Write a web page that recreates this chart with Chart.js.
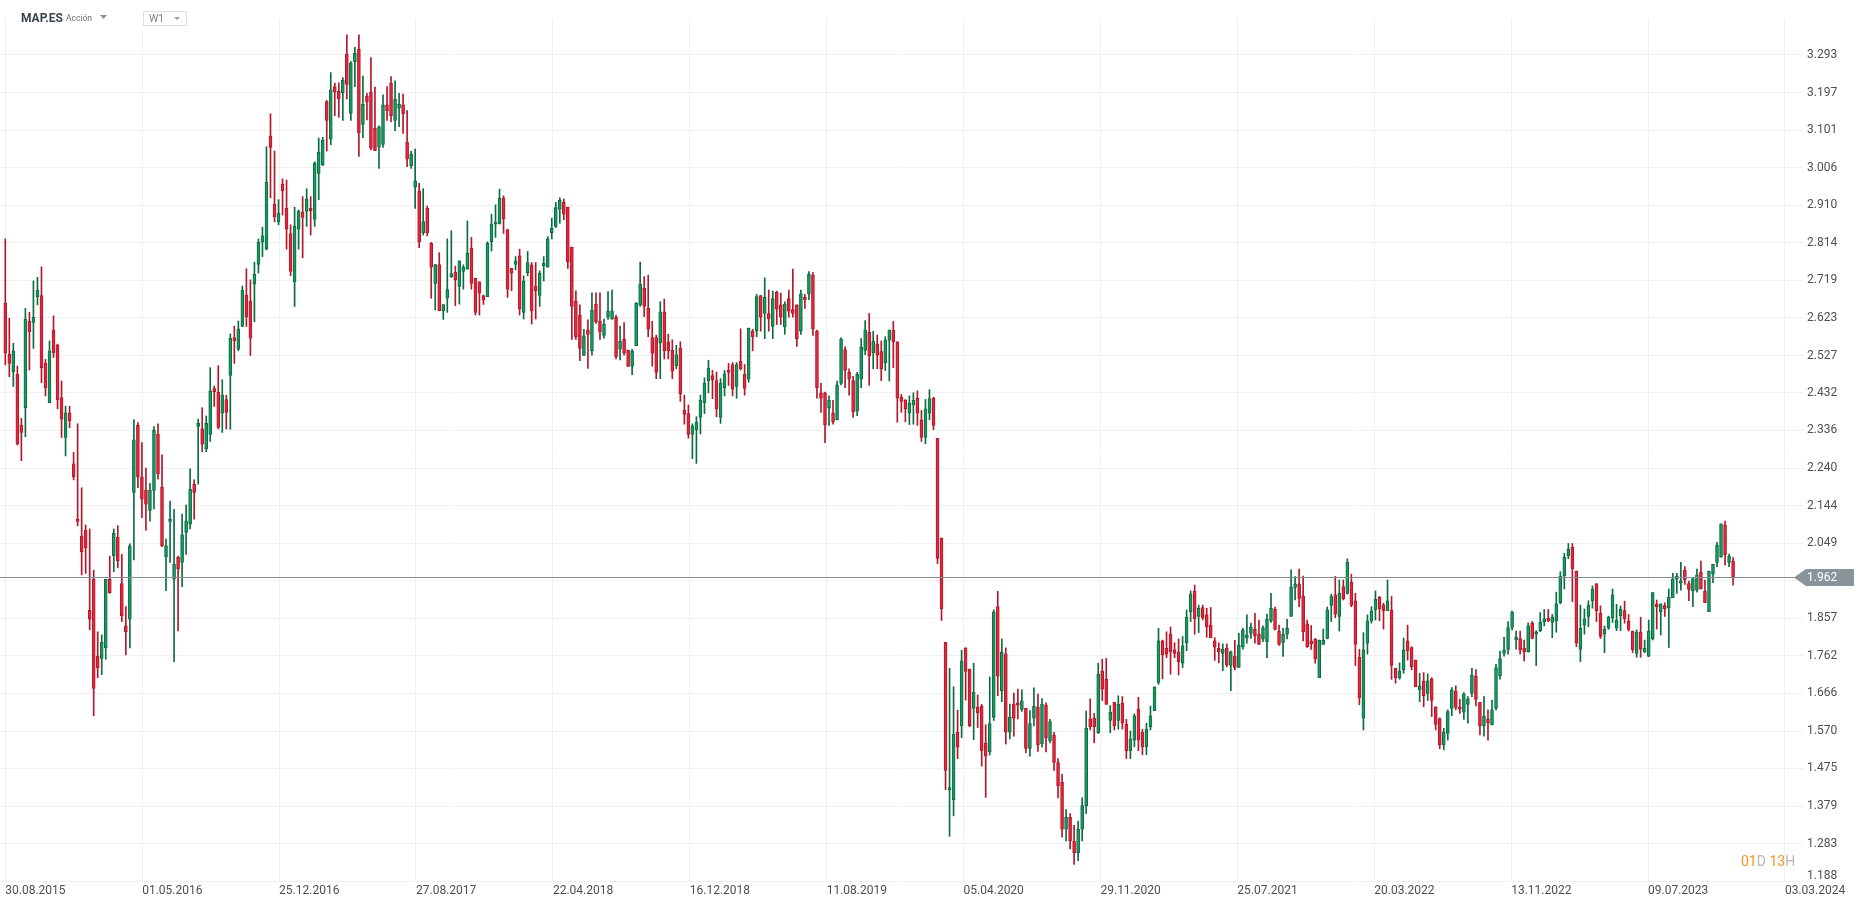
<!DOCTYPE html>
<html>
<head>
<meta charset="utf-8">
<title>MAP.ES W1</title>
<script src="https://cdn.jsdelivr.net/npm/chart.js@4.4.1/dist/chart.umd.min.js"></script>
<style>
  html, body { margin: 0; padding: 0; background: #fff; overflow: hidden; }
  #chart { display: block; }
</style>
</head>
<body>
<canvas id="chart" width="1866" height="907"></canvas>
<script>
// weekly candles, first one is the week of 30.08.2015
const symbol = 'MAP.ES';
const instrumentType = 'Acción';
const timeframe = 'W1';
const countdown = [['01', true], ['D', false], [' 13', true], ['H', false]];

const xTickLabels = ['30.08.2015', '01.05.2016', '25.12.2016', '27.08.2017', '22.04.2018', '16.12.2018',
  '11.08.2019', '05.04.2020', '29.11.2020', '25.07.2021', '20.03.2022', '13.11.2022', '09.07.2023', '03.03.2024'];
const weeksPerLabel = 34.07;

const yTicks = [1.188, 1.283, 1.379, 1.475, 1.570, 1.666, 1.762, 1.857, 1.953, 2.049, 2.144, 2.240,
  2.336, 2.432, 2.527, 2.623, 2.719, 2.814, 2.910, 3.006, 3.101, 3.197, 3.293];
const lastPrice = 1.962;

const openPrices = [
  2.660,2.530,2.486,2.479,2.350,2.394,2.615,2.611,2.677,2.680,
  2.507,2.407,2.592,2.554,2.420,2.318,2.381,2.251,2.110,2.067,
  2.082,1.878,1.957,1.761,1.755,1.782,1.957,2.017,2.064,1.946,
  1.838,1.855,2.178,2.350,2.217,2.184,2.132,2.183,2.327,2.191,
  2.014,2.104,1.957,2.013,2.000,2.076,2.097,2.199,2.346,2.340,
  2.289,2.326,2.443,2.433,2.380,2.415,2.476,2.573,2.543,2.601,
  2.681,2.666,2.709,2.759,2.816,2.798,3.086,2.913,2.868,2.964,
  2.902,2.838,2.715,2.849,2.892,2.894,2.902,2.874,2.991,3.013,
  3.174,3.078,3.212,3.201,3.197,3.295,3.144,3.276,3.307,3.116,
  3.188,3.198,3.106,3.058,3.065,3.166,3.221,3.126,3.157,3.166,
  3.070,3.011,2.956,2.946,2.840,2.902,2.813,2.711,2.759,2.641,
  2.673,2.728,2.739,2.703,2.741,2.747,2.800,2.724,2.715,2.680,
  2.677,2.817,2.862,2.862,2.928,2.847,2.749,2.759,2.781,2.637,
  2.738,2.758,2.704,2.680,2.756,2.752,2.840,2.856,2.900,2.917,
  2.905,2.803,2.666,2.630,2.527,2.592,2.539,2.658,2.615,2.578,
  2.625,2.621,2.624,2.543,2.569,2.541,2.499,2.552,2.656,2.698,
  2.647,2.573,2.573,2.559,2.638,2.562,2.540,2.501,2.546,2.388,
  2.379,2.326,2.338,2.369,2.407,2.462,2.476,2.463,2.369,2.445,
  2.490,2.504,2.448,2.512,2.479,2.467,2.589,2.589,2.680,2.634,
  2.634,2.601,2.688,2.656,2.600,2.672,2.644,2.656,2.589,2.675,
  2.683,2.732,2.590,2.432,2.432,2.393,2.380,2.363,2.456,2.542,
  2.484,2.463,2.385,2.467,2.540,2.586,2.534,2.557,2.537,2.509,
  2.566,2.592,2.562,2.421,2.413,2.380,2.401,2.418,2.363,2.318,
  2.380,2.418,2.316,2.062,1.796,1.421,1.395,1.567,1.583,1.782,
  1.728,1.628,1.631,1.633,1.539,1.517,1.605,1.887,1.673,1.767,
  1.567,1.639,1.642,1.625,1.628,1.526,1.603,1.631,1.537,1.636,
  1.545,1.560,1.490,1.440,1.320,1.350,1.290,1.260,1.320,1.380,
  1.601,1.603,1.566,1.723,1.702,1.597,1.643,1.597,1.641,1.587,
  1.520,1.547,1.626,1.567,1.530,1.581,1.622,1.694,1.800,1.781,
  1.817,1.777,1.771,1.743,1.795,1.874,1.927,1.862,1.885,1.866,
  1.840,1.800,1.781,1.768,1.781,1.737,1.761,1.732,1.785,1.808,
  1.819,1.829,1.817,1.804,1.798,1.851,1.880,1.825,1.796,1.817,
  1.862,1.936,1.945,1.914,1.843,1.800,1.804,1.706,1.791,1.806,
  1.890,1.917,1.862,1.938,1.921,1.949,1.902,1.758,1.603,1.794,
  1.851,1.879,1.911,1.891,1.877,1.879,1.730,1.706,1.726,1.800,
  1.783,1.751,1.675,1.698,1.666,1.703,1.632,1.602,1.535,1.564,
  1.628,1.672,1.631,1.618,1.638,1.666,1.710,1.643,1.583,1.601,
  1.586,1.628,1.711,1.768,1.778,1.834,1.802,1.806,1.781,1.772,
  1.846,1.817,1.826,1.849,1.857,1.847,1.851,1.897,1.966,2.017,
  2.038,1.978,1.778,1.840,1.862,1.902,1.945,1.870,1.817,1.832,
  1.859,1.832,1.864,1.877,1.851,1.825,1.768,1.822,1.772,1.760,
  1.805,1.894,1.874,1.890,1.884,1.910,1.957,1.947,1.980,1.946,
  1.928,1.929,1.975,1.927,1.874,1.970,2.000,2.013,2.095,2.000,
  2.003
];

const highPrices = [
  2.824,2.622,2.558,2.500,2.367,2.647,2.637,2.717,2.726,2.753,
  2.517,2.564,2.628,2.556,2.462,2.398,2.398,2.280,2.353,2.190,
  2.095,2.085,1.980,1.823,1.815,1.957,2.016,2.085,2.093,2.020,
  1.887,2.047,2.363,2.356,2.305,2.240,2.201,2.346,2.353,2.274,
  2.059,2.156,2.135,2.016,2.123,2.146,2.238,2.210,2.365,2.394,
  2.373,2.496,2.449,2.501,2.465,2.426,2.582,2.602,2.615,2.704,
  2.748,2.720,2.765,2.824,2.854,3.059,3.143,3.048,2.924,2.977,
  2.974,2.860,2.905,2.898,2.932,2.952,2.932,3.021,3.081,3.083,
  3.177,3.248,3.221,3.222,3.235,3.344,3.276,3.312,3.344,3.239,
  3.195,3.286,3.211,3.112,3.191,3.212,3.238,3.227,3.195,3.193,
  3.151,3.047,3.053,2.966,2.952,2.908,2.815,2.759,2.789,2.657,
  2.824,2.845,2.755,2.768,2.758,2.870,2.828,2.724,2.715,2.681,
  2.817,2.887,2.911,2.951,2.934,2.849,2.749,2.779,2.798,2.730,
  2.792,2.764,2.764,2.743,2.779,2.830,2.877,2.917,2.929,2.926,
  2.905,2.803,2.692,2.656,2.594,2.618,2.687,2.687,2.687,2.620,
  2.690,2.694,2.630,2.602,2.611,2.541,2.543,2.662,2.765,2.728,
  2.732,2.614,2.579,2.664,2.671,2.581,2.567,2.553,2.562,2.426,
  2.401,2.353,2.371,2.426,2.470,2.515,2.489,2.485,2.468,2.489,
  2.507,2.509,2.509,2.595,2.504,2.597,2.594,2.683,2.680,2.725,
  2.694,2.691,2.691,2.686,2.664,2.694,2.747,2.656,2.694,2.683,
  2.741,2.738,2.592,2.456,2.434,2.424,2.413,2.462,2.572,2.550,
  2.493,2.474,2.484,2.570,2.616,2.634,2.589,2.579,2.564,2.575,
  2.592,2.614,2.562,2.428,2.415,2.424,2.432,2.437,2.387,2.415,
  2.440,2.421,2.316,2.062,1.796,1.730,1.683,1.623,1.776,1.782,
  1.728,1.743,1.662,1.638,1.586,1.708,1.879,1.926,1.805,1.782,
  1.639,1.667,1.677,1.675,1.628,1.622,1.680,1.664,1.653,1.642,
  1.600,1.567,1.500,1.460,1.370,1.360,1.330,1.340,1.400,1.621,
  1.652,1.615,1.743,1.753,1.755,1.635,1.643,1.660,1.658,1.600,
  1.570,1.614,1.656,1.575,1.590,1.634,1.683,1.832,1.802,1.823,
  1.835,1.795,1.805,1.811,1.879,1.927,1.942,1.891,1.891,1.883,
  1.885,1.808,1.795,1.792,1.792,1.774,1.801,1.819,1.832,1.866,
  1.845,1.870,1.853,1.838,1.868,1.921,1.886,1.840,1.832,1.855,
  1.981,1.964,1.983,1.965,1.853,1.839,1.806,1.802,1.830,1.886,
  1.919,1.964,1.955,1.955,2.009,1.970,1.921,1.778,1.821,1.866,
  1.887,1.927,1.913,1.896,1.955,1.913,1.730,1.744,1.807,1.840,
  1.785,1.751,1.717,1.719,1.716,1.706,1.632,1.604,1.577,1.624,
  1.681,1.685,1.651,1.668,1.658,1.730,1.727,1.643,1.658,1.624,
  1.649,1.740,1.774,1.809,1.849,1.876,1.825,1.825,1.802,1.846,
  1.849,1.826,1.872,1.880,1.880,1.867,1.924,1.976,2.023,2.048,
  2.048,1.978,1.891,1.881,1.902,1.940,1.946,1.889,1.838,1.863,
  1.932,1.893,1.889,1.901,1.867,1.825,1.828,1.860,1.802,1.853,
  1.923,1.904,1.894,1.897,1.932,1.972,1.972,2.000,1.989,1.952,
  1.959,1.983,2.003,1.955,1.978,1.995,2.051,2.098,2.105,2.021,
  2.012
];

const lowPrices = [
  2.503,2.473,2.448,2.299,2.259,2.320,2.490,2.545,2.656,2.458,
  2.424,2.407,2.522,2.391,2.318,2.271,2.343,2.210,2.093,1.968,
  1.972,1.828,1.609,1.706,1.714,1.753,1.921,1.976,1.986,1.849,
  1.764,1.782,2.006,2.190,2.114,2.082,2.105,2.136,2.212,2.040,
  1.928,2.000,1.747,1.825,1.938,2.020,2.085,2.110,2.199,2.282,
  2.282,2.308,2.397,2.340,2.331,2.340,2.339,2.507,2.539,2.601,
  2.601,2.527,2.613,2.737,2.779,2.796,2.929,2.868,2.860,2.885,
  2.798,2.730,2.652,2.798,2.776,2.856,2.834,2.856,2.924,3.011,
  3.048,3.064,3.138,3.134,3.126,3.181,3.126,3.212,3.034,3.082,
  3.127,3.051,3.049,3.004,3.057,3.126,3.123,3.100,3.110,3.093,
  3.008,3.004,2.902,2.802,2.834,2.832,2.673,2.643,2.641,2.619,
  2.637,2.726,2.654,2.658,2.696,2.747,2.696,2.630,2.630,2.657,
  2.677,2.793,2.828,2.862,2.838,2.675,2.692,2.745,2.630,2.620,
  2.730,2.607,2.620,2.652,2.717,2.752,2.824,2.853,2.864,2.873,
  2.749,2.568,2.568,2.514,2.527,2.494,2.528,2.609,2.568,2.571,
  2.619,2.619,2.518,2.516,2.528,2.499,2.478,2.552,2.652,2.626,
  2.575,2.500,2.468,2.468,2.518,2.518,2.468,2.493,2.410,2.352,
  2.316,2.264,2.252,2.327,2.379,2.432,2.417,2.371,2.354,2.424,
  2.451,2.424,2.418,2.490,2.426,2.459,2.539,2.575,2.589,2.570,
  2.589,2.570,2.606,2.606,2.581,2.625,2.625,2.550,2.581,2.647,
  2.669,2.578,2.418,2.382,2.305,2.349,2.352,2.363,2.452,2.445,
  2.426,2.369,2.374,2.445,2.529,2.451,2.493,2.493,2.463,2.489,
  2.462,2.496,2.357,2.382,2.358,2.351,2.352,2.349,2.308,2.302,
  2.363,2.338,1.997,1.852,1.421,1.302,1.354,1.500,1.553,1.649,
  1.581,1.548,1.579,1.481,1.401,1.509,1.597,1.660,1.645,1.537,
  1.550,1.557,1.601,1.620,1.515,1.506,1.583,1.518,1.529,1.517,
  1.540,1.470,1.400,1.300,1.290,1.270,1.230,1.240,1.290,1.360,
  1.573,1.540,1.564,1.648,1.638,1.566,1.573,1.575,1.575,1.500,
  1.500,1.530,1.520,1.510,1.510,1.573,1.622,1.689,1.703,1.757,
  1.715,1.757,1.713,1.732,1.775,1.849,1.817,1.821,1.853,1.809,
  1.808,1.750,1.744,1.724,1.734,1.673,1.726,1.732,1.779,1.794,
  1.806,1.794,1.791,1.798,1.757,1.847,1.828,1.788,1.760,1.805,
  1.862,1.904,1.887,1.800,1.783,1.778,1.743,1.706,1.791,1.805,
  1.849,1.859,1.825,1.904,1.919,1.887,1.737,1.637,1.573,1.766,
  1.845,1.853,1.851,1.830,1.877,1.702,1.692,1.702,1.717,1.751,
  1.726,1.683,1.645,1.632,1.648,1.607,1.573,1.525,1.522,1.547,
  1.609,1.624,1.615,1.600,1.590,1.658,1.634,1.560,1.557,1.547,
  1.586,1.624,1.702,1.761,1.766,1.828,1.779,1.766,1.749,1.771,
  1.805,1.737,1.823,1.838,1.849,1.808,1.822,1.894,1.932,2.009,
  1.900,1.785,1.747,1.817,1.836,1.883,1.849,1.806,1.770,1.829,
  1.847,1.826,1.826,1.845,1.825,1.770,1.758,1.758,1.770,1.760,
  1.802,1.830,1.815,1.862,1.783,1.910,1.921,1.929,1.944,1.902,
  1.887,1.924,1.932,1.897,1.874,1.948,1.989,2.013,1.993,1.989,
  1.942
];

const closePrices = [
  2.533,2.507,2.538,2.302,2.331,2.619,2.588,2.624,2.694,2.496,
  2.445,2.539,2.534,2.414,2.365,2.381,2.361,2.218,2.104,2.027,
  2.037,1.855,1.679,1.731,1.796,1.957,1.923,2.074,2.004,1.864,
  1.823,2.042,2.312,2.218,2.161,2.148,2.184,2.337,2.225,2.042,
  2.042,2.110,1.995,1.983,2.070,2.105,2.186,2.178,2.354,2.301,
  2.354,2.437,2.435,2.344,2.426,2.382,2.571,2.565,2.595,2.694,
  2.626,2.571,2.734,2.816,2.832,2.968,3.057,2.881,2.889,2.947,
  2.849,2.741,2.857,2.895,2.879,2.926,2.896,3.017,3.045,3.076,
  3.126,3.204,3.199,3.181,3.229,3.218,3.273,3.297,3.095,3.167,
  3.174,3.055,3.049,3.110,3.166,3.151,3.138,3.180,3.167,3.143,
  3.027,3.040,2.972,2.817,2.868,2.840,2.752,2.759,2.641,2.657,
  2.695,2.736,2.720,2.768,2.752,2.788,2.711,2.637,2.686,2.669,
  2.813,2.862,2.867,2.928,2.875,2.696,2.737,2.768,2.645,2.717,
  2.764,2.641,2.692,2.737,2.762,2.824,2.851,2.904,2.923,2.887,
  2.766,2.652,2.575,2.545,2.577,2.581,2.643,2.613,2.588,2.607,
  2.640,2.641,2.524,2.564,2.533,2.499,2.539,2.660,2.709,2.652,
  2.594,2.533,2.484,2.638,2.539,2.539,2.487,2.529,2.430,2.377,
  2.326,2.348,2.357,2.413,2.457,2.495,2.465,2.391,2.457,2.480,
  2.484,2.441,2.504,2.493,2.443,2.597,2.575,2.677,2.625,2.675,
  2.620,2.672,2.645,2.625,2.658,2.640,2.634,2.570,2.684,2.669,
  2.734,2.595,2.445,2.418,2.351,2.413,2.358,2.452,2.568,2.489,
  2.467,2.384,2.479,2.548,2.592,2.526,2.564,2.528,2.493,2.566,
  2.592,2.562,2.418,2.410,2.391,2.406,2.413,2.380,2.318,2.391,
  2.417,2.349,2.010,1.881,1.470,1.426,1.562,1.529,1.749,1.722,
  1.584,1.669,1.617,1.520,1.507,1.589,1.874,1.710,1.771,1.567,
  1.606,1.603,1.636,1.647,1.526,1.589,1.634,1.535,1.639,1.553,
  1.594,1.490,1.430,1.320,1.350,1.290,1.260,1.320,1.380,1.577,
  1.581,1.581,1.715,1.677,1.638,1.618,1.584,1.638,1.590,1.520,
  1.550,1.609,1.547,1.530,1.575,1.609,1.682,1.800,1.764,1.766,
  1.772,1.768,1.747,1.787,1.860,1.919,1.856,1.883,1.859,1.836,
  1.808,1.784,1.772,1.778,1.739,1.772,1.732,1.789,1.828,1.815,
  1.835,1.813,1.791,1.834,1.855,1.883,1.829,1.791,1.817,1.832,
  1.937,1.945,1.908,1.823,1.785,1.792,1.754,1.802,1.802,1.879,
  1.913,1.868,1.921,1.907,2.000,1.890,1.791,1.655,1.777,1.851,
  1.876,1.906,1.881,1.877,1.902,1.737,1.706,1.723,1.777,1.774,
  1.734,1.683,1.685,1.660,1.698,1.648,1.587,1.535,1.568,1.620,
  1.675,1.630,1.626,1.665,1.651,1.713,1.651,1.584,1.608,1.590,
  1.624,1.732,1.755,1.777,1.834,1.873,1.809,1.777,1.771,1.838,
  1.806,1.823,1.847,1.856,1.851,1.860,1.894,1.965,2.013,2.034,
  1.983,1.794,1.832,1.856,1.891,1.932,1.877,1.811,1.829,1.860,
  1.917,1.853,1.880,1.856,1.829,1.777,1.822,1.778,1.781,1.825,
  1.923,1.887,1.894,1.881,1.911,1.958,1.965,1.953,1.955,1.931,
  1.958,1.968,1.932,1.897,1.978,1.995,2.044,2.098,2.019,2.016,
  1.962
];

const GREEN = '#189a62', GREEN_DARK = '#0b6b42';
const RED = '#e5273b', RED_DARK = '#b3172a';
const GRID = '#f0f0f0';
const TEXT = '#4a5056';

const weeks = closePrices.map((_, i) => i);
const rising = weeks.map(i => closePrices[i] >= openPrices[i]);

Chart.defaults.font.family = 'Roboto';

const overlay = {
  id: 'overlay',
  afterDraw(chart) {
    const c = chart.ctx;
    const ys = chart.scales.y;
    const area = chart.chartArea;
    const py = Math.round(ys.getPixelForValue(lastPrice)) + 0.5;
    c.save();

    // current price line + tag
    c.strokeStyle = '#838d92';
    c.lineWidth = 1;
    c.beginPath();
    c.moveTo(area.left, py);
    c.lineTo(1795, py);
    c.stroke();
    c.fillStyle = '#89939a';
    c.beginPath();
    c.moveTo(1794, py);
    c.lineTo(1806, py - 8.5);
    c.lineTo(1854, py - 8.5);
    c.lineTo(1854, py + 8.5);
    c.lineTo(1806, py + 8.5);
    c.closePath();
    c.fill();
    c.font = '12px Roboto';
    c.textAlign = 'left';
    c.textBaseline = 'middle';
    c.fillStyle = '#ffffff';
    c.fillText(lastPrice.toFixed(3), 1807, py + 0.5);

    // bottom price label sits a bit higher than its grid line
    c.fillStyle = TEXT;
    c.fillText(yTicks[0].toFixed(3), 1807, ys.getPixelForValue(yTicks[0]) - 5);

    // candle countdown
    c.font = '14px Roboto';
    let x = 1741;
    countdown.forEach(([t, hot]) => {
      c.fillStyle = hot ? '#f7941d' : '#b8b8b8';
      c.fillText(t, x, 862);
      x += c.measureText(t).width;
    });

    // header
    c.fillStyle = '#ffffff';
    c.fillRect(10, 0, 195, 31);
    c.fillStyle = '#37434d';
    c.font = 'bold 12px Roboto';
    c.fillText(symbol, 21, 18.5);
    c.fillStyle = '#6b7177';
    c.font = '8.5px Roboto';
    c.fillText(instrumentType, 66, 19);
    c.fillStyle = '#8a8f94';
    c.beginPath();
    c.moveTo(100, 15); c.lineTo(107, 15); c.lineTo(103.5, 19); c.closePath();
    c.fill();
    c.strokeStyle = '#dcdfe2';
    c.strokeRect(143.5, 11.5, 43, 14);
    c.fillStyle = '#7a7f84';
    c.font = '10.5px Roboto';
    c.fillText(timeframe, 149, 19);
    c.fillStyle = '#9a9ea2';
    c.beginPath();
    c.moveTo(174, 17); c.lineTo(180, 17); c.lineTo(177, 20); c.closePath();
    c.fill();

    c.restore();
  }
};

new Chart(document.getElementById('chart'), {
  type: 'bar',
  data: {
    datasets: [
      {
        label: 'wick',
        data: weeks.map(i => ({ x: i, y: [lowPrices[i], highPrices[i]] })),
        backgroundColor: rising.map(r => r ? GREEN_DARK : RED_DARK),
        barThickness: 1,
        minBarLength: 1,
        grouped: false,
        order: 2
      },
      {
        label: symbol,
        data: weeks.map(i => ({ x: i, y: [openPrices[i], closePrices[i]] })),
        backgroundColor: rising.map(r => r ? GREEN : RED),
        borderColor: rising.map(r => r ? GREEN_DARK : RED_DARK),
        borderWidth: 1,
        borderSkipped: false,
        barThickness: 3,
        minBarLength: 2,
        grouped: false,
        order: 1
      }
    ]
  },
  options: {
    responsive: false,
    animation: false,
    events: [],
    layout: { padding: { top: 18, left: 0, right: 0, bottom: 0 } },
    plugins: { legend: { display: false }, tooltip: { enabled: false } },
    scales: {
      x: {
        type: 'linear',
        min: -1.32,
        max: 447.4,
        offset: false,
        border: { display: false },
        grid: { color: GRID, drawTicks: false, offset: false },
        afterBuildTicks: s => { s.ticks = xTickLabels.map((_, k) => ({ value: k * weeksPerLabel })); },
        afterFit: s => { s.height = 26; },
        ticks: {
          autoSkip: false,
          maxRotation: 0,
          align: 'start',
          padding: 3,
          color: TEXT,
          font: { size: 12 },
          callback: (v, k) => xTickLabels[k]
        }
      },
      y: {
        position: 'right',
        min: 1.188,
        max: 3.387,
        border: { display: false },
        grid: { color: GRID, drawTicks: false },
        afterBuildTicks: s => { s.ticks = yTicks.map(v => ({ value: v })); },
        afterFit: s => { s.width = 63; },
        ticks: {
          padding: 4,
          color: TEXT,
          font: { size: 12 },
          callback: (v, k) => (k === 0 || Math.abs(v - lastPrice) < 0.03) ? '' : v.toFixed(3)
        }
      }
    }
  },
  plugins: [overlay]
});
</script>
</body>
</html>
